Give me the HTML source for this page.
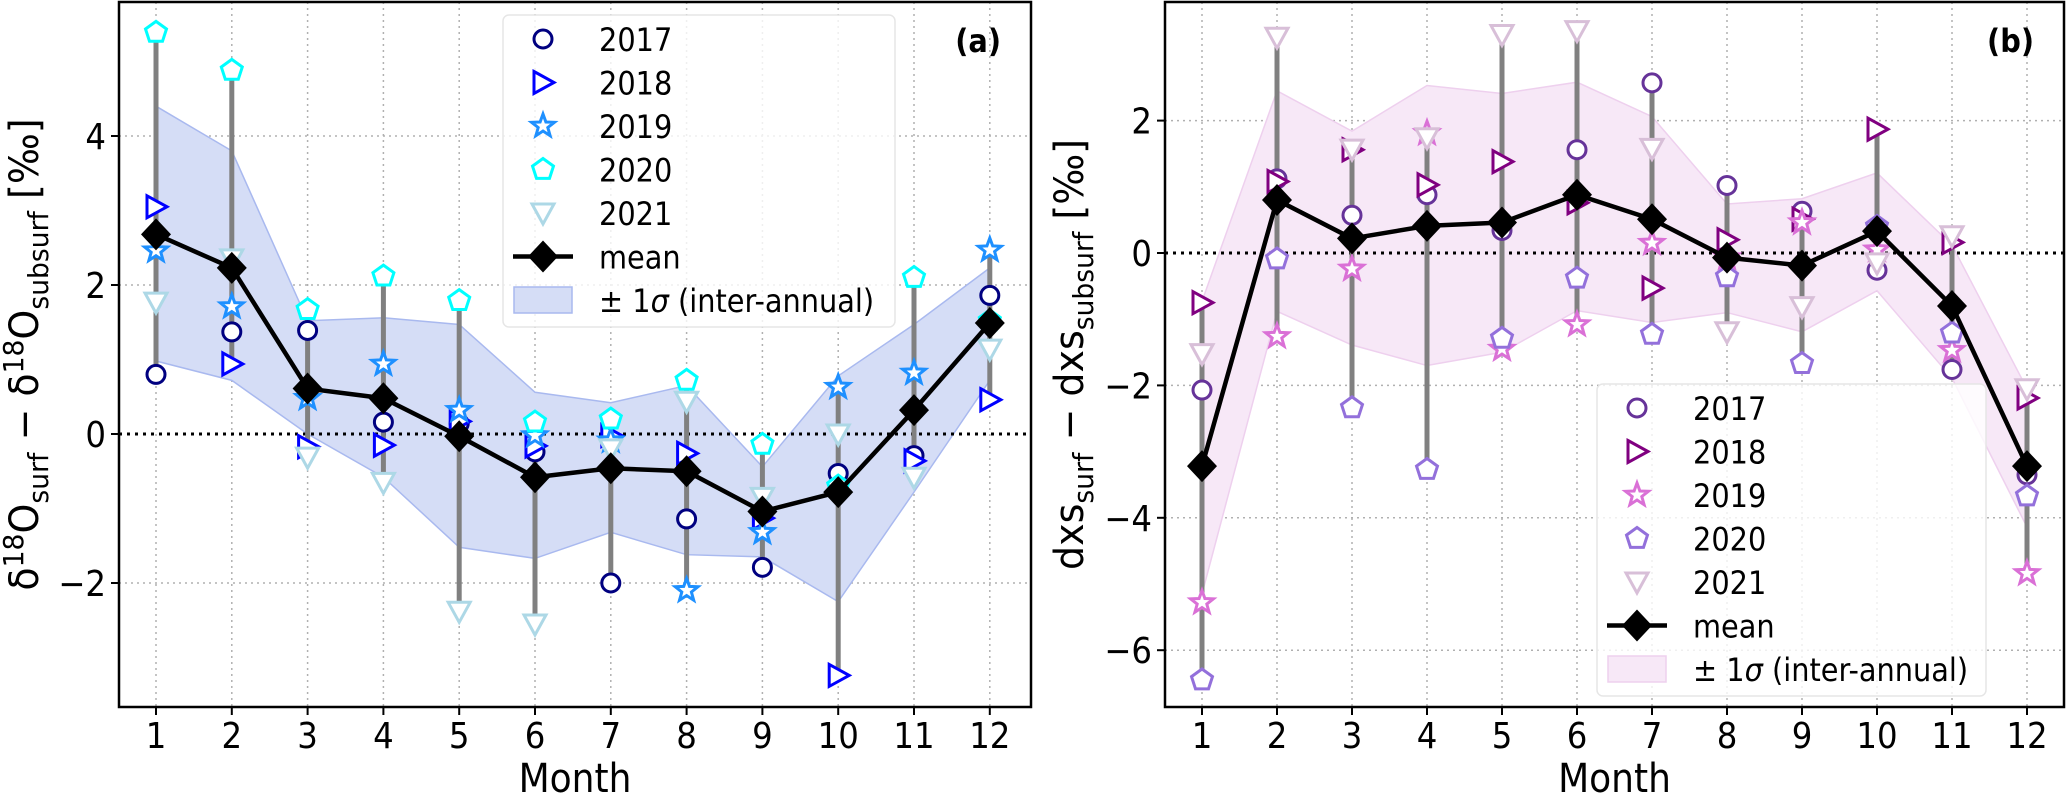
<!DOCTYPE html>
<html><head><meta charset="utf-8"><style>
html,body{margin:0;padding:0;background:#fff}
svg{display:block;font-family:"DejaVu Sans","Liberation Sans",sans-serif}
</style></head><body>
<svg id="chart" width="2067" height="796" xmlns="http://www.w3.org/2000/svg"></svg>
<script>
const months=[1,2,3,4,5,6,7,8,9,10,11,12];
const years=['2017','2018','2019','2020','2021'];
const yTicksA=[-2,0,2,4];
const yTicksB=[-6,-4,-2,0,2];
// panel a values
const a2017=[0.8,1.37,1.39,0.16,0.14,-0.24,-2.0,-1.14,-1.79,-0.53,-0.29,1.86];
const a2018=[3.05,0.94,-0.17,-0.15,0.17,-0.16,-0.02,-0.26,-1.13,-3.24,-0.36,0.46];
const a2019=[2.46,1.71,0.48,0.94,0.32,-0.02,-0.09,-2.1,-1.32,0.63,0.82,2.47];
const a2020=[5.39,4.88,1.67,2.12,1.79,0.16,0.2,0.72,-0.14,-0.7,2.1,1.52];
const a2021=[1.77,2.35,-0.31,-0.65,-2.38,-2.55,-0.2,0.44,-0.85,0.0,-0.58,1.14];
const aMean=[2.68,2.23,0.61,0.48,-0.03,-0.58,-0.46,-0.5,-1.04,-0.78,0.32,1.49];
const aUp=[4.4,3.8,1.52,1.56,1.47,0.56,0.42,0.65,-0.44,0.78,1.47,2.23];
const aLo=[0.98,0.72,0.0,-0.58,-1.52,-1.67,-1.32,-1.62,-1.65,-2.25,-0.78,0.72];
// panel b values
const b2017=[-2.07,1.12,0.57,0.88,0.34,1.56,2.57,1.02,0.63,-0.26,-1.76,-3.35];
const b2018=[-0.75,1.08,1.56,1.03,1.38,0.76,-0.53,0.2,0.51,1.87,0.16,-2.19];
const b2019=[-5.28,-1.26,-0.24,1.81,-1.45,-1.08,0.15,-0.07,0.46,0.05,-1.47,-4.84];
const b2020=[-6.45,-0.09,-2.34,-3.27,-1.29,-0.38,-1.23,-0.36,-1.67,0.4,-1.21,-3.67];
const b2021=[-1.52,3.26,1.57,1.74,3.3,3.36,1.58,-1.19,-0.81,-0.15,0.26,-2.05];
const bMean=[-3.22,0.8,0.22,0.41,0.46,0.88,0.51,-0.07,-0.19,0.33,-0.8,-3.22];
const bUp=[-0.73,2.45,1.84,2.53,2.41,2.58,2.06,0.74,0.82,1.21,0.12,-2.05];
const bLo=[-5.15,-0.88,-1.39,-1.7,-1.5,-0.87,-1.05,-0.9,-1.19,-0.57,-1.89,-4.14];

const NS='http://www.w3.org/2000/svg';
const svg=document.getElementById('chart');
const SX=0.9;
function mk(tag,attrs,parent){const e=document.createElementNS(NS,tag);for(const k in attrs)e.setAttribute(k,attrs[k]);(parent||svg).appendChild(e);return e;}
function txt(parent,x,y,size,anchor,extra){const a=Object.assign({x:0,y:0,'font-size':size,'text-anchor':anchor,transform:`translate(${x},${y}) scale(${SX},1)`},extra||{});return mk('text',a,parent);}
function marker(g,shape,x,y,color){
  let e;const r=9;
  if(shape==='o'){e=mk('circle',{cx:x,cy:y,r:r,fill:'#fff',stroke:color,'stroke-width':3},g);}
  else if(shape==='>'){e=mk('polygon',{points:`${x-9},${y-11} ${x+11},${y} ${x-9},${y+11}`,fill:'#fff',stroke:color,'stroke-width':3},g);}
  else if(shape==='v'){e=mk('polygon',{points:`${x-11},${y-9} ${x+11},${y-9} ${x},${y+11}`,fill:'#fff',stroke:color,'stroke-width':3},g);}
  else if(shape==='p'){let p=[];for(let i=0;i<5;i++){const a=-Math.PI/2+i*2*Math.PI/5;p.push((x+11*Math.cos(a)).toFixed(1)+','+(y+11*Math.sin(a)).toFixed(1));}e=mk('polygon',{points:p.join(' '),fill:'#fff',stroke:color,'stroke-width':3},g);}
  else if(shape==='*'){let p=[];for(let i=0;i<10;i++){const a=-Math.PI/2+i*Math.PI/5;const rr=i%2?5:12;p.push((x+rr*Math.cos(a)).toFixed(1)+','+(y+rr*Math.sin(a)).toFixed(1));}e=mk('polygon',{points:p.join(' '),fill:'#fff',stroke:color,'stroke-width':3,'stroke-linejoin':'miter'},g);}
  else if(shape==='D'){e=mk('polygon',{points:`${x},${y-16} ${x+15},${y} ${x},${y+16} ${x-15},${y}`,fill:'#000'},g);}
  return e;
}
function panel(cfg){
  const {id,L,R,T,B,x1,dx,y0,py,ticks,series,colors,mean,up,lo,band,bandEdge,label,legX,legY,legW,legH,ylabel,ylabelX}=cfg;
  const X=m=>x1+(m-1)*dx, Y=v=>y0-v*py;
  const g=mk('g',{});
  
  
  const grid=mk('g',{},g);
  
  
  months.forEach(m=>mk('line',{x1:X(m),x2:X(m),y1:T,y2:B,stroke:'#b0b0b0','stroke-width':1.5,'stroke-dasharray':'2,4'},grid));
  ticks.forEach(t=>{if(t!==0)mk('line',{x1:L,x2:R,y1:Y(t),y2:Y(t),stroke:'#b0b0b0','stroke-width':1.5,'stroke-dasharray':'2,4'},grid);});
  let pts=months.map((m,i)=>X(m)+','+Y(up[i])).concat(months.slice().reverse().map((m,j)=>X(m)+','+Y(lo[11-j])));
  const bp=mk('polygon',{points:pts.join(' '),fill:band,stroke:bandEdge,'stroke-width':1.5},g);
  
  
  mk('line',{x1:L,x2:R,y1:Y(0),y2:Y(0),stroke:'#000','stroke-width':3,'stroke-dasharray':'3,5'},g);
  months.forEach((m,i)=>{const vals=series.map(s=>s[i]);const ln=mk('line',{x1:X(m),x2:X(m),y1:Y(Math.max(...vals)),y2:Y(Math.min(...vals)),stroke:'#808080','stroke-width':5},g);
    
    });
  const shapes=['o','>','*','p','v'];
  series.forEach((s,k)=>{const sg=mk('g',{},g);
    
    
    months.forEach((m,i)=>{const e=marker(sg,shapes[k],X(m),Y(s[i]),colors[k]);
      
      });});
  const ml=mk('polyline',{points:months.map((m,i)=>X(m)+','+Y(mean[i])).join(' '),fill:'none',stroke:'#000','stroke-width':4.5,'stroke-linejoin':'round'},g);
  
  
  months.forEach((m,i)=>{const e=marker(g,'D',X(m),Y(mean[i]));
    
    });
  const fr=mk('rect',{x:L,y:T,width:R-L,height:B-T,fill:'none',stroke:'#000','stroke-width':2.5},g);
  
  
  months.forEach(m=>{mk('line',{x1:X(m),x2:X(m),y1:B,y2:B+8,stroke:'#000','stroke-width':2},g);
    const t=txt(g,X(m),B+41,36,'middle');t.textContent=m;
    
    });
  ticks.forEach(v=>{mk('line',{x1:L-8,x2:L,y1:Y(v),y2:Y(v),stroke:'#000','stroke-width':2},g);
    const t=txt(g,L-13,Y(v)+13,36,'end');t.textContent=v<0?'\u2212'+(-v):v;
    
    });
  const xl=txt(g,(L+R)/2,792,40,'middle');xl.textContent='Month';
  
  
  const yl=mk('text',{x:0,y:0,'font-size':40,'text-anchor':'middle',transform:`translate(${ylabelX},${(T+B)/2}) rotate(-90) scale(0.95,1)`},g);
  yl.innerHTML=ylabel;
  
  
  const pl=txt(g,R-30,52,32,'end',{'font-weight':'bold'});pl.textContent=label;
  
  
  const lg=mk('g',{},g);
  
  
  mk('rect',{x:legX,y:legY,width:legW,height:legH,rx:6,fill:'#fff','fill-opacity':0.8,stroke:'#e6e6e6','stroke-width':1.5},lg);
  const names=years.concat(['mean','sigma']);
  for(let k=0;k<7;k++){const yy=legY+24+k*43.5;const mx=legX+40;
    const eg=mk('g',{},lg);
    
    
    if(k<5)marker(eg,shapes[k],mx,yy,colors[k]);
    else if(k===5){mk('line',{x1:mx-30,x2:mx+30,y1:yy,y2:yy,stroke:'#000','stroke-width':4.5},eg);marker(eg,'D',mx,yy);}
    else mk('rect',{x:mx-29,y:yy-13,width:58,height:26,fill:band,stroke:bandEdge,'stroke-width':1.5},eg);
    const t=txt(eg,legX+96,yy+12,32,'start');
    if(k<6)t.textContent=names[k];else t.innerHTML='\u00b1 1<tspan font-style="italic">\u03c3</tspan> (inter-annual)';
  }
}
panel({id:'a',L:119,R:1031,T:2,B:707,x1:156,dx:75.8,y0:434,py:74.5,ticks:yTicksA,
  series:[a2017,a2018,a2019,a2020,a2021],colors:['#000080','#0000ff','#1e90ff','#00ffff','#add8e6'],
  mean:aMean,up:aUp,lo:aLo,band:'#d5ddf6',bandEdge:'#a9b9ef',label:'(a)',legX:503,legY:15,legW:392,legH:312,
  ylabel:'\u03b4<tspan dy="-15" font-size="28">18</tspan><tspan dy="15">O</tspan><tspan dy="10" font-size="28">surf</tspan><tspan dy="-10"> \u2212 \u03b4</tspan><tspan dy="-15" font-size="28">18</tspan><tspan dy="15">O</tspan><tspan dy="10" font-size="28">subsurf</tspan><tspan dy="-10"> [\u2030]</tspan>',ylabelX:38});
panel({id:'b',L:1165,R:2064,T:2,B:707,x1:1202,dx:75,y0:253,py:66.2,ticks:yTicksB,
  series:[b2017,b2018,b2019,b2020,b2021],colors:['#663399','#800080','#da70d6','#9370db','#d8bfd8'],
  mean:bMean,up:bUp,lo:bLo,band:'#f7e8f7',bandEdge:'#eed0ee',label:'(b)',legX:1597,legY:384,legW:389,legH:312,
  ylabel:'dxs<tspan dy="10" font-size="28">surf</tspan><tspan dy="-10"> \u2212 dxs</tspan><tspan dy="10" font-size="28">subsurf</tspan><tspan dy="-10"> [\u2030]</tspan>',ylabelX:1083});
</script>
</body></html>
